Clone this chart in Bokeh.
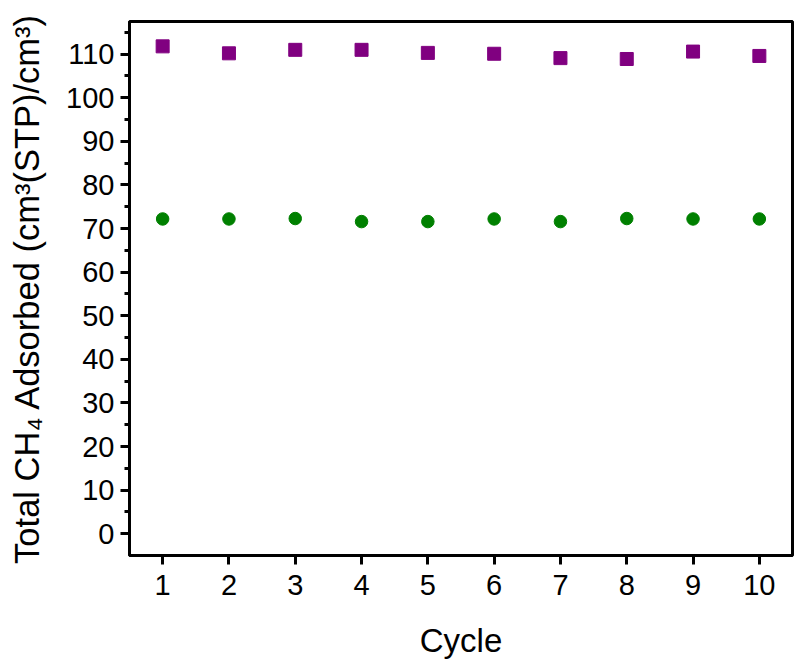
from bokeh.plotting import figure
from bokeh.embed import file_html
from bokeh.resources import INLINE
from bokeh.models import FixedTicker, Range1d

cycles = [1, 2, 3, 4, 5, 6, 7, 8, 9, 10]
series_square = [111.8, 110.2, 111.0, 111.0, 110.3, 110.1, 109.1, 108.9, 110.6, 109.6]
series_circle = [72.2, 72.2, 72.3, 71.6, 71.6, 72.2, 71.6, 72.3, 72.2, 72.2]
y_ticks = [0, 10, 20, 30, 40, 50, 60, 70, 80, 90, 100, 110]
y_minor = [5, 15, 25, 35, 45, 55, 65, 75, 85, 95, 105, 115]

p = figure(width=800, height=665, output_backend="svg", toolbar_location=None,
           frame_width=663, frame_height=534,
           x_range=Range1d(0.5, 10.5), y_range=Range1d(-5, 117.5),
           min_border_left=129, min_border_top=21, min_border_right=8, min_border_bottom=110)

p.scatter(cycles, series_square, marker="square", size=13, fill_color="#800080", line_color="#800080")
p.scatter(cycles, series_circle, marker="circle", size=12.5, fill_color="#008000", line_color="#008000")

p.xgrid.visible = False
p.ygrid.visible = False
p.outline_line_color = "black"
p.outline_line_width = 3
p.outline_line_alpha = 1

font = "Liberation Sans"
for ax in (p.xaxis[0], p.yaxis[0]):
    ax.axis_line_width = 3
    ax.axis_line_color = "black"
    ax.major_tick_line_width = 3
    ax.minor_tick_line_width = 3
    ax.major_tick_out = 9
    ax.major_tick_in = 0
    ax.minor_tick_out = 5
    ax.minor_tick_in = 0
    ax.major_label_text_font = font
    ax.major_label_text_font_size = "29px"
    ax.major_label_text_color = "black"
    ax.axis_label_text_font = font
    ax.axis_label_text_font_size = "33px"
    ax.axis_label_text_font_style = "normal"
    ax.axis_label_text_color = "black"

p.yaxis.axis_label_text_font_size = "34.5px"
p.xaxis.ticker = FixedTicker(ticks=cycles)
p.yaxis.ticker = FixedTicker(ticks=y_ticks, minor_ticks=y_minor)
p.xaxis.minor_tick_line_color = None
p.xaxis.axis_label = "Cycle"
p.yaxis.axis_label = "Total CH\u2084 Adsorbed (cm\u00b3(STP)/cm\u00b3)"
p.xaxis.major_label_standoff = 10
p.yaxis.major_label_standoff = 6
p.xaxis.axis_label_standoff = 24
p.yaxis.axis_label_standoff = 17

open("out.html", "w").write(file_html(p, INLINE))
